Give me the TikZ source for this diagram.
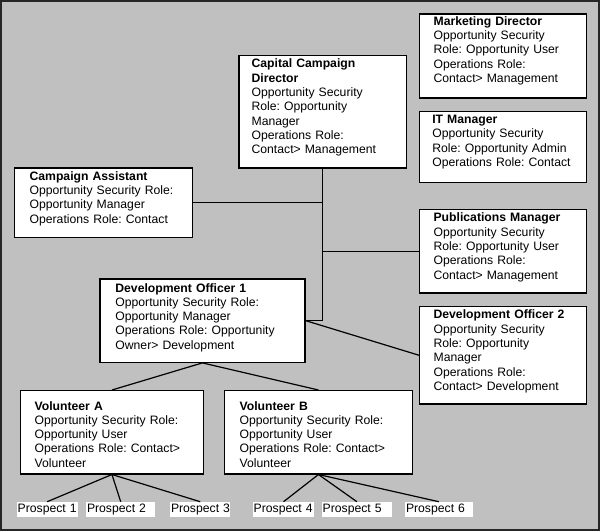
\documentclass[tikz,border=0pt]{standalone}
\usepackage{fontspec}
\setmainfont{Liberation Sans}
\usepackage{tikz}
\usetikzlibrary{positioning}
\usepackage{xcolor}
\definecolor{bggray}{RGB}{192,192,192}
\newcommand{\rolefont}{\fontsize{12.2}{14.3}\selectfont\frenchspacing}

\begin{document}
\begin{tikzpicture}[x=1pt,y=-1pt,
  role/.style={draw=black,line width=1.2pt,fill=white,anchor=north west,align=left,
    inner xsep=14pt,inner ysep=0pt,text height=12.3pt,font=\rolefont},
  prospect/.style={fill=white,anchor=north west,align=left,
    inner xsep=0.8pt,inner ysep=0pt,text height=11pt,text depth=4pt,font=\rolefont},
  link/.style={-,line width=1.2pt,draw=black}]
% \draw[help lines] (0,0) grid (600,531);
\useasboundingbox (0,0) rectangle (600,531);
\fill[bggray] (0,0) rectangle (600,531);
\draw[line width=1.5pt,black!85] (0.75,0.75) rectangle (598.8,530.2);
%
\node (mkt) [role,text width=138.7pt,text height=11.4pt,text depth=72.6pt] at (419,13.3)
  {\textbf{Marketing Director}\\Opportunity Security\\Role: Opportunity User\\Operations Role:\\Contact> Management};
\node (ccd) [role,inner xsep=12.7pt,text width=142pt,text depth=100pt] at (238.3,55)
  {\textbf{Capital Campaign}\\\textbf{Director}\\Opportunity Security\\Role: Opportunity\\Manager\\Operations Role:\\Contact> Management};
\node (itm) [role,inner xsep=12.7pt,text width=141.3pt,text depth=58.7pt] at (419,110.7)
  {\textbf{IT Manager}\\Opportunity Security\\Role: Opportunity Admin\\Operations Role: Contact};
\node (cas) [role,inner xsep=15pt,text width=147.7pt,text depth=57.1pt] at (14,167.3)
  {\textbf{Campaign Assistant}\\Opportunity Security Role:\\Opportunity Manager\\Operations Role: Contact};
\node (pub) [role,text width=138.7pt,text depth=71pt] at (419,209)
  {\textbf{Publications Manager}\\Opportunity Security\\Role: Opportunity User\\Operations Role:\\Contact> Management};
\node (do1) [role,inner xsep=15.5pt,text width=174pt,text height=13.1pt,text depth=70.3pt] at (99.3,278.3)
  {\textbf{Development Officer 1}\\Opportunity Security Role:\\Opportunity Manager\\Operations Role: Opportunity\\Owner> Development};
\node (do2) [role,text width=138.7pt,text depth=85pt] at (419,306)
  {\textbf{Development Officer 2}\\Opportunity Security\\Role: Opportunity\\Manager\\Operations Role:\\Contact> Development};
\node (vola) [role,text width=154.7pt,text height=19.4pt,text depth=63.9pt] at (20,390)
  {\textbf{Volunteer A}\\Opportunity Security Role:\\Opportunity User\\Operations Role: Contact>\\Volunteer};
\node (volb) [role,inner xsep=15pt,text width=157.7pt,text height=19.4pt,text depth=63.9pt] at (224,390)
  {\textbf{Volunteer B}\\Opportunity Security Role:\\Opportunity User\\Operations Role: Contact>\\Volunteer};
%
\node (p1) [prospect,text width=59pt] at (16.7,501.7) {\mbox{Prospect 1}};
\node (p2) [prospect,text width=67.4pt] at (86,501.7) {\mbox{Prospect 2}};
\node (p3) [prospect,text width=58.4pt] at (170,501.7) {\mbox{Prospect 3}};
\node (p4) [prospect,text width=59.7pt] at (252.7,501.7) {\mbox{Prospect 4}};
\node (p5) [prospect,text width=68.4pt] at (321.7,501.7) {\mbox{Prospect 5}};
\node (p6) [prospect,text width=65.7pt] at (405,501.7) {\mbox{Prospect 6}};
%
\draw[link] (ccd.south) |- (do1.east);
\draw[link] (cas.east) -- (cas.east -| ccd.south);
\draw[link] (pub.west) -- (pub.west -| ccd.south);
\path[link] (do1.east) edge (do2.west);
\path[link] (do1.south) edge (vola.north) edge (volb.north);
%
\foreach \p in {p1,p2,p3} \path[link] (vola.south) edge (\p.north);
\foreach \p in {p4,p5,p6} \path[link] (volb.south) edge (\p.north);
\end{tikzpicture}
\end{document}
